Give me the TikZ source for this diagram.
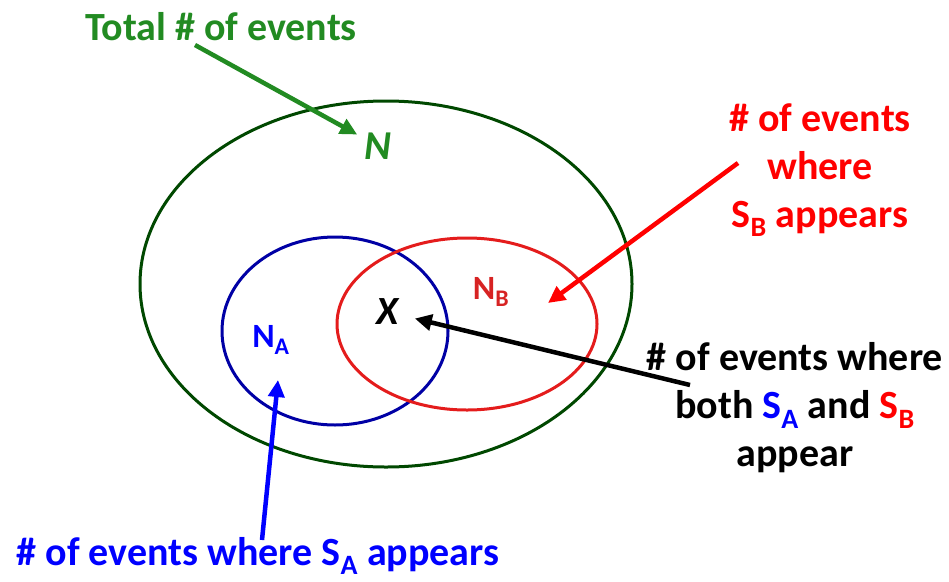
\documentclass[tikz,border=0pt]{standalone}
\usepackage{fontspec}
\setmainfont{Carlito}
\usetikzlibrary{arrows.meta}
\definecolor{verdeTxt}{RGB}{34,139,34}
\definecolor{verdeElip}{RGB}{0,72,0}
\definecolor{azulElip}{RGB}{0,0,165}
\definecolor{rojoElip}{RGB}{228,28,28}
\definecolor{rojoLetra}{RGB}{215,35,35}
\begin{document}
\begin{tikzpicture}[x=1pt, y=-1pt,
    conj/.style={line width=3pt},
    flecha/.style={line width=4.5pt, -{Triangle[length=17pt, width=16pt]}},
    etiqueta/.style={font=\fontsize{40}{48}\selectfont\bfseries, align=center, inner sep=0pt},
    letra/.style={font=\fontsize{34}{38}\selectfont\bfseries, inner sep=1pt}
  ]
  \useasboundingbox (0,0) rectangle (949,581);
  % --- conjuntos ---
  \draw[conj, verdeElip] (386,284) ellipse [x radius=246, y radius=183];
  \draw[conj, azulElip] (335,331) ellipse [x radius=113, y radius=94];
  \draw[conj, rojoElip] (467,324) ellipse [x radius=130, y radius=86];

  % --- letras dentro de los conjuntos ---
  \node[letra, verdeTxt, font=\fontsize{41}{44}\selectfont\bfseries\itshape] (nN) at (378,146) {N};
  \node[letra, rojoLetra] (nB) at (491,292) {N\textsubscript{B}};
  \node[letra, blue] (nA) at (271,340) {N\textsubscript{A}};
  \node[letra, black, font=\fontsize{40}{44}\selectfont\bfseries\itshape] (nX) at (388,312) {X};

  % --- textos ---
  \node[etiqueta, verdeTxt] (tTotal) at (221,27) {Total \# of events};
  \node[etiqueta, red] (tB) at (820,170) {\# of events\\where\\S\textsubscript{B} appears};
  \node[etiqueta, black] (tAB) at (795,408) {\# of events where\\both \textcolor{blue}{S\textsubscript{A}} and \textcolor{red}{S\textsubscript{B}}\\appear};
  \node[etiqueta, blue] (tA) at (258,556) {\# of events where S\textsubscript{A} appears};

  % --- flechas ---
  \coordinate (cTotal) at (195,45);
  \coordinate (cB) at (738,163);
  \coordinate (pB) at (548,303);
  \coordinate (cAB) at (690,385);
  \coordinate (cA) at (262,540);
  \coordinate (pA) at (278,380);
  \draw[flecha, verdeTxt, shorten >=7pt] (cTotal) -- (nN);
  \draw[flecha, red] (cB) -- (pB);
  \draw[flecha, black, shorten >=15pt] (cAB) -- (nX);
  \draw[flecha, blue] (cA) -- (pA);
\end{tikzpicture}
\end{document}
